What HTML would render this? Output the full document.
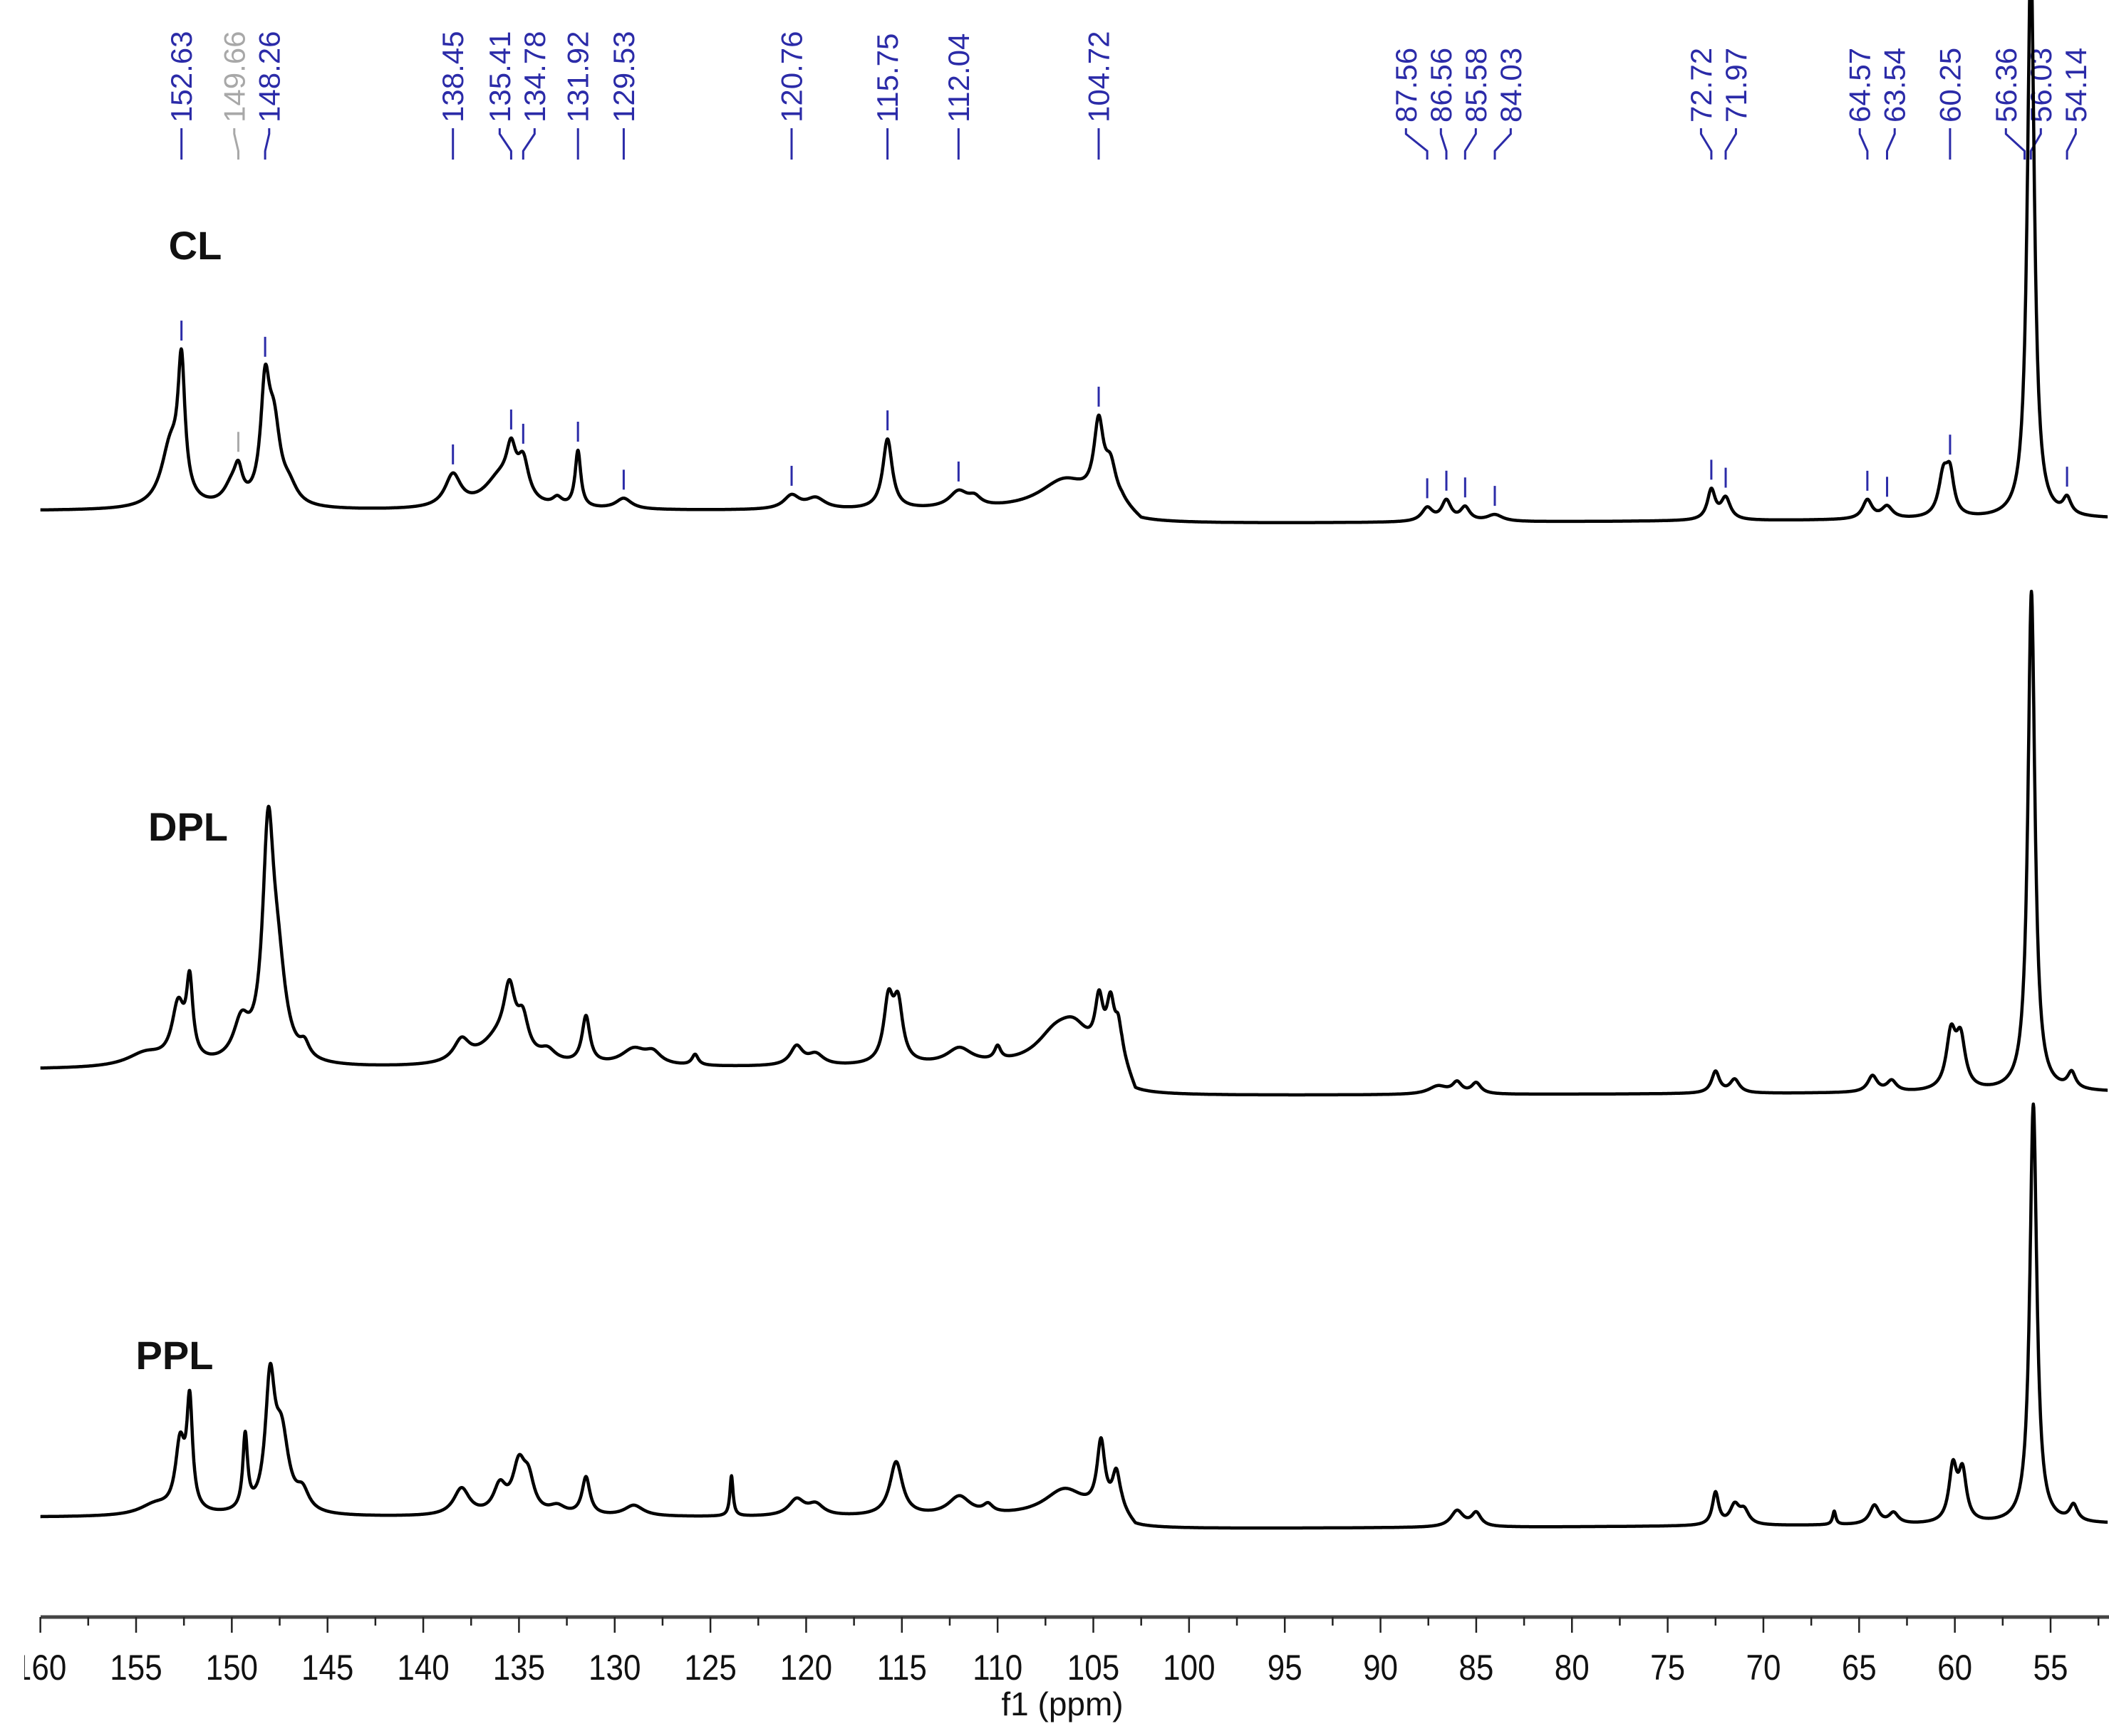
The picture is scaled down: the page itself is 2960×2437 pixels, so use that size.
<!DOCTYPE html>
<html><head><meta charset="utf-8">
<style>
html,body{margin:0;padding:0;background:#fff;}
svg{display:block;}
</style></head>
<body>
<svg id="chart" width="2960" height="2437" viewBox="0 0 2960 2437" xmlns="http://www.w3.org/2000/svg">
<rect x="0" y="0" width="2960" height="2437" fill="#fff"/>
<g id="labels"></g>
<g id="spectra"></g>
<g id="axis"></g>
<rect x="0" y="2300" width="34" height="90" fill="#fff"/>
<text x="274" y="364" font-family="Liberation Sans, sans-serif" font-weight="bold" font-size="56" fill="#111" text-anchor="middle">CL</text>
<text x="264" y="1180" font-family="Liberation Sans, sans-serif" font-weight="bold" font-size="56" fill="#111" text-anchor="middle">DPL</text>
<text x="245" y="1922" font-family="Liberation Sans, sans-serif" font-weight="bold" font-size="56" fill="#111" text-anchor="middle">PPL</text>
<text x="1491" y="2408" font-family="Liberation Sans, sans-serif" font-size="46" fill="#111" text-anchor="middle">f1 (ppm)</text>
</svg>
<script>
// ---- data ----
const tickValues = [160,155,150,145,140,135,130,125,120,115,110,105,100,95,90,85,80,75,70,65,60,55];
const peakLabels = [152.63,149.66,148.26,138.45,135.41,134.78,131.92,129.53,120.76,115.75,112.04,104.72,87.56,86.56,85.58,84.03,72.72,71.97,64.57,63.54,60.25,56.36,56.03,54.14];
const peakLabelGray = [149.66];

const clCenters = [153.2,152.63,150.0,149.66,148.26,147.8,147.0,138.45,136.0,135.41,134.78,133.0,131.92,129.53,120.76,119.5,115.75,112.04,111.2,106.5,104.72,104.1,87.56,86.56,85.58,84.03,72.72,71.97,64.57,63.54,60.6,60.25,56.03,54.14];
const clHeights = [45,95,14,20,80,55,12,24,22,30,28,6,42,8,10,8,52,12,6,22,55,25,10,15,10,5,22,16,14,9,30,28,420,12];
const clWidths  = [0.6,0.22,0.5,0.25,0.28,0.4,0.5,0.5,1.0,0.3,0.35,0.3,0.18,0.5,0.5,0.6,0.3,0.6,0.4,1.6,0.3,0.35,0.35,0.3,0.3,0.5,0.25,0.3,0.3,0.35,0.3,0.25,0.22,0.25];
const clBaseP = [160,103.5,102.5,52];
const clBaseH = [10,10,0,4];

const dplCenters = [154.5,152.8,152.2,149.5,148.1,147.6,146.2,138.0,136.0,135.5,134.8,133.5,131.5,129.0,128,125.8,120.5,119.5,115.7,115.2,112,110,107,106,104.7,104.1,103.7,87,86,85,72.5,71.5,64.3,63.3,60.2,59.7,56.0,53.9];
const dplHeights = [10,42,55,28,160,60,10,16,20,42,25,8,35,12,8,8,14,8,45,42,12,10,20,22,38,38,20,6,8,8,16,10,12,8,40,36,372,12];
const dplWidths  = [1.2,0.4,0.2,0.5,0.35,0.5,0.3,0.5,1.2,0.35,0.35,0.5,0.25,0.8,0.5,0.2,0.4,0.5,0.3,0.3,0.8,0.2,1.2,1.0,0.25,0.25,0.2,0.6,0.3,0.3,0.25,0.3,0.3,0.3,0.3,0.3,0.22,0.25];
const dplBaseP = [160,103.5,102.8,52];
const dplBaseH = [20,22,0,3];

const pplCenters = [154,152.7,152.2,149.3,148.0,147.4,146.3,138,136,135,134.5,133,131.5,129,123.9,120.5,119.5,115.3,112,110.5,106.5,104.6,103.8,86,85,72.5,71.5,71,66.3,64.2,63.2,60.1,59.6,55.9,53.8];
const pplHeights = [8,50,78,55,92,55,14,20,20,35,22,6,28,8,30,12,8,40,14,6,20,50,28,12,10,24,14,10,10,14,8,40,36,312,12];
const pplWidths  = [1.0,0.3,0.18,0.15,0.3,0.45,0.4,0.5,0.4,0.4,0.35,0.5,0.25,0.6,0.1,0.5,0.5,0.4,0.7,0.3,1.3,0.25,0.25,0.4,0.3,0.2,0.3,0.3,0.1,0.3,0.3,0.25,0.25,0.22,0.25];
const pplBaseP = [160,103.5,102.8,52];
const pplBaseH = [9,9,0,4];

// ---- scales ----
const PX_PER_PPM = 26.87, X155 = 191, SCALE_Y = 1.888;
function xs(p){ return X155 + (155 - p) * PX_PER_PPM; }
const NS = 'http://www.w3.org/2000/svg';
function mk(tag, attrs){ const e = document.createElementNS(NS, tag); for (const k in attrs) e.setAttribute(k, attrs[k]); return e; }

function baseAt(p, bp, bh){
  for (let i=0;i<bp.length-1;i++){
    if (p<=bp[i] && p>=bp[i+1]){ const t=(bp[i]-p)/(bp[i]-bp[i+1]); return bh[i]+t*(bh[i+1]-bh[i]); }
  }
  return bh[bh.length-1];
}
function intensity(p, c, h, w, bp, bh){
  let s = baseAt(p,bp,bh);
  for (let i=0;i<c.length;i++){ const d=(p-c[i])/w[i]; s += h[i]/(1+d*d); }
  return s;
}
const specG = document.getElementById('spectra');
function drawSpectrum(name, baseY, c, h, w, bp, bh){
  let d = '';
  for (let p=160; p>=52; p-=0.02){
    const y = baseY - intensity(p,c,h,w,bp,bh)*SCALE_Y;
    d += (d?'L':'M') + xs(p).toFixed(1) + ',' + y.toFixed(1);
  }
  const path = mk('path',{d:d, fill:'none', stroke:'#000', 'stroke-width':'4.5', 'stroke-linejoin':'round'});
  
  
  specG.appendChild(path);
}
const clBaseY = 736, dplBaseY = 1539, pplBaseY = 2147;
drawSpectrum('cl-spectrum', clBaseY, clCenters, clHeights, clWidths, clBaseP, clBaseH);
drawSpectrum('dpl-spectrum', dplBaseY, dplCenters, dplHeights, dplWidths, dplBaseP, dplBaseH);
drawSpectrum('ppl-spectrum', pplBaseY, pplCenters, pplHeights, pplWidths, pplBaseP, pplBaseH);

// peak pick markers on CL
peakLabels.forEach(p=>{
  const top = clBaseY - intensity(p,clCenters,clHeights,clWidths,clBaseP,clBaseH)*SCALE_Y;
  const gray = peakLabelGray.includes(p);
  const y2 = Math.max(top-12, 8), y1 = Math.max(top-40, 0);
  if (p < 57 && p > 55.5) return;
  const m = mk('line',{x1:xs(p),x2:xs(p),y1:y1,y2:y2,stroke:gray?'#aaa':'#2b2ba8','stroke-width':'3'});
  
  
  specG.appendChild(m);
});

// peak labels with spreading
const labG = document.getElementById('labels');
const ideal = peakLabels.map(xs);
const SP = 49;
let groups = ideal.map((x,i)=>({s:i,e:i,sum:x}));
let changed = true;
while(changed){
  changed=false;
  for(let g=0; g<groups.length-1; g++){
    const a=groups[g], b=groups[g+1];
    const na=a.e-a.s+1, nb=b.e-b.s+1;
    const ca=a.sum/na, cb=b.sum/nb;
    const aEnd = ca + (na-1)*SP/2, bStart = cb - (nb-1)*SP/2;
    if (bStart - aEnd < SP){ groups.splice(g,2,{s:a.s,e:b.e,sum:a.sum+b.sum}); changed=true; break; }
  }
}
const lx = [];
groups.forEach(g=>{ const n=g.e-g.s+1, c=g.sum/n; for(let i=0;i<n;i++) lx[g.s+i]=c+(i-(n-1)/2)*SP; });
peakLabels.forEach((p,i)=>{
  const gray = peakLabelGray.includes(p);
  const col = gray ? '#a8a8a8' : '#2b2ba8';
  const t = mk('text',{x:0,y:0,transform:`translate(${lx[i].toFixed(1)},172) rotate(-90)`,'font-family':'Liberation Sans, sans-serif','font-size':'42',fill:col,'dominant-baseline':'central'});
  t.textContent = p.toFixed(2);
  
  
  labG.appendChild(t);
  const px = xs(p);
  const c = mk('path',{d:`M${lx[i].toFixed(1)},180 L${lx[i].toFixed(1)},188 L${px.toFixed(1)},212 L${px.toFixed(1)},224`,fill:'none',stroke:col,'stroke-width':'3'});
  
  
  labG.appendChild(c);
});

// axis
const axG = document.getElementById('axis');
const AXY = 2270;
const axl = mk('line',{x1:57,x2:2960,y1:AXY,y2:AXY,stroke:'#444','stroke-width':'5'});


axG.appendChild(axl);
for (let v=160; v>=52; v-=2.5){
  const major = Math.abs(v/5-Math.round(v/5))<1e-6;
  const tk = mk('line',{x1:xs(v),x2:xs(v),y1:AXY,y2:AXY+(major?22:12),stroke:'#222','stroke-width':'2.5'});
  
  
  axG.appendChild(tk);
}
tickValues.forEach(v=>{
  const t = mk('text',{x:xs(v),y:2358,'font-family':'Liberation Sans, sans-serif','font-size':'50',fill:'#111','text-anchor':'middle',transform:`translate(${xs(v)*0.12},0) scale(0.88,1)`});
  t.textContent = v;
  
  
  axG.appendChild(t);
});
</script>
</body></html>
